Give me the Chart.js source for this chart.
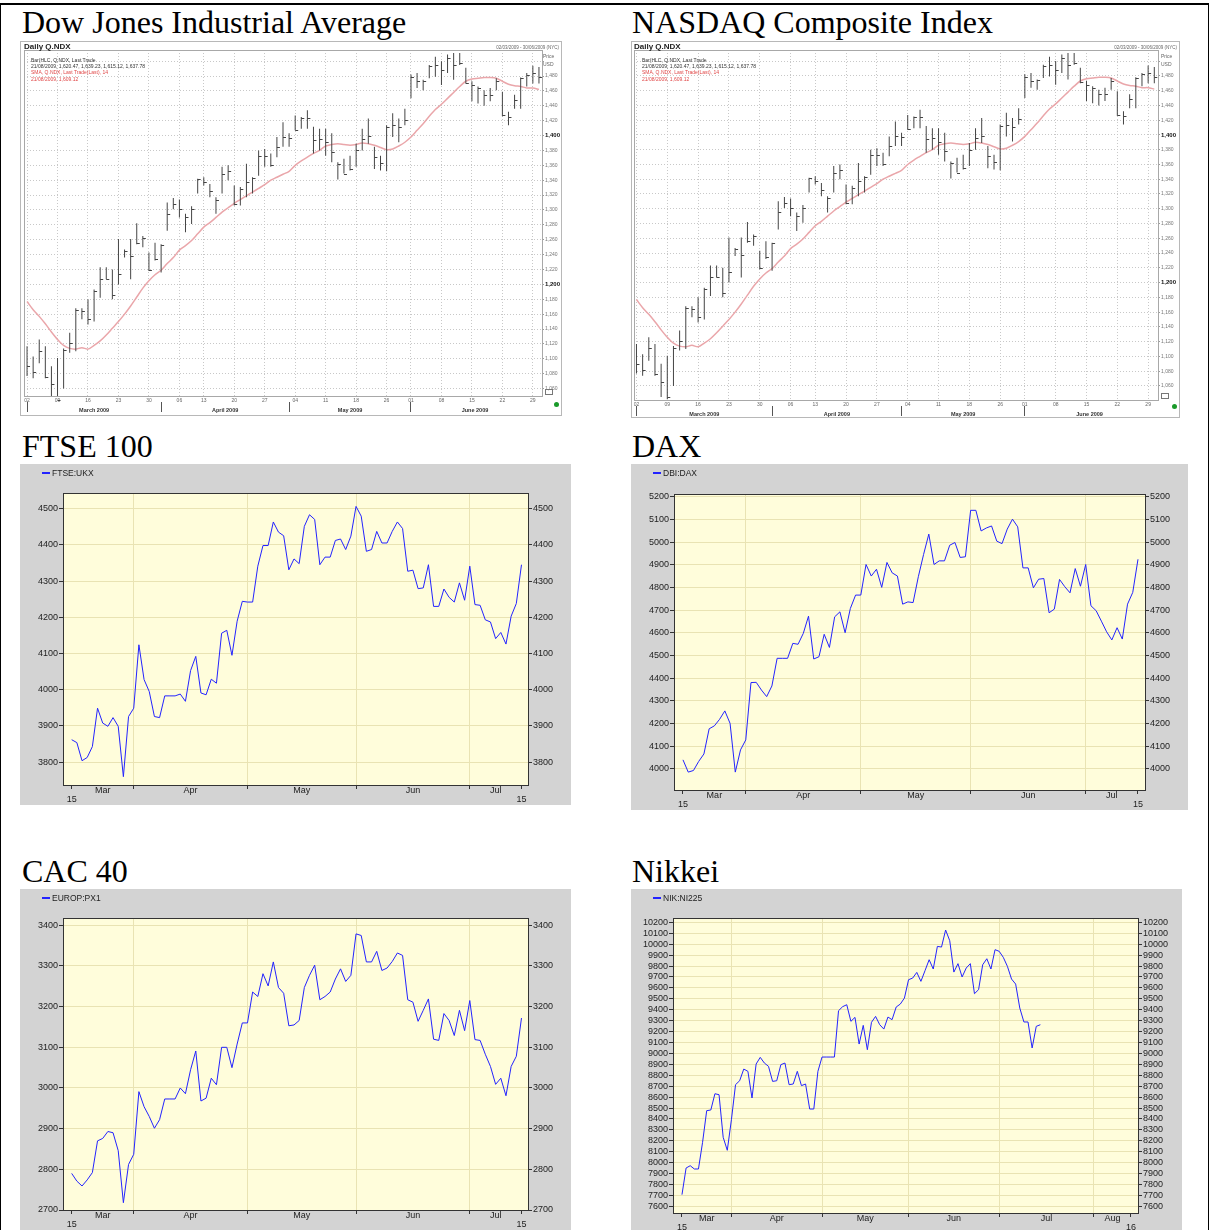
<!DOCTYPE html>
<html>
<head>
<meta charset="utf-8">
<title>Stock indices, spring 2009</title>
<script src="https://cdn.jsdelivr.net/npm/chart.js@4.4.1/dist/chart.umd.min.js"></script>
<style>
  html, body { margin: 0; padding: 0; background: #fff; }
  body { position: relative; width: 1210px; height: 1230px; overflow: hidden; font-family: "Liberation Sans", Arial, sans-serif; }
  .page-frame { position: absolute; left: 0; top: 3px; width: 1207px; height: 1300px; border-top: 2px solid #000; border-left: 1px solid #000; border-right: 1px solid #000; }
  .title { position: absolute; font-family: "Liberation Serif", "Times New Roman", serif; font-size: 32px; line-height: 32px; white-space: nowrap; color: #000; }
  .panel { position: absolute; }
  .panel canvas { position: absolute; left: 0; top: 0; }
  .legend { position: absolute; left: 22px; top: 5px; font-size: 8.5px; line-height: 8px; color: #222; white-space: nowrap; }
  .legend i { display: inline-block; width: 8px; height: 2px; background: #2323ff; vertical-align: 2px; margin-right: 2px; }
  .ndx-head { position: absolute; left: 4px; top: 1px; font-size: 8px; font-weight: bold; color: #222; white-space: nowrap; }
  .ndx-range { position: absolute; right: 3px; top: 4px; font-size: 4.5px; color: #666; white-space: nowrap; }
  .ndx-legend { position: absolute; left: 11px; top: 16px; font-size: 5px; line-height: 6.2px; color: #333; white-space: nowrap; }
  .ndx-legend .red { color: #e04848; }
  .ndx-price { position: absolute; right: 4px; width: 15px; top: 11px; font-size: 5px; line-height: 8px; color: #666; }
  .ndx-dot { position: absolute; right: 3px; bottom: 9px; width: 5px; height: 5px; border-radius: 50%; background: #1a9a2a; }
</style>
</head>
<body>
<div class="page-frame"></div>

<div class="title" style="left:22px;top:6px">Dow Jones Industrial Average</div>
<div class="title" style="left:632px;top:6px">NASDAQ Composite Index</div>
<div class="title" style="left:22px;top:430px">FTSE 100</div>
<div class="title" style="left:632px;top:430px">DAX</div>
<div class="title" style="left:22px;top:855px">CAC 40</div>
<div class="title" style="left:632px;top:855px">Nikkei</div>

<div class="panel" style="left:20px;top:41px;width:542px;height:375px">
  <canvas id="djChart" width="542" height="375"></canvas>
  <div class="ndx-head">Daily Q.NDX</div>
  <div class="ndx-range">02/03/2009 - 30/06/2009 (NYC)</div>
  <div class="ndx-legend">
    <div>Bar(HLC, Q.NDX, Last Trade</div>
    <div>21/08/2009, 1,620.47, 1,639.23, 1,615.12, 1,637.78</div>
    <div class="red">SMA, Q.NDX, Last Trade(Last), 14</div>
    <div class="red">21/08/2009, 1,609.12</div>
  </div>
  <div class="ndx-price">Price<br>USD</div>
  <div class="ndx-dot"></div>
</div>

<div class="panel" style="left:631px;top:41px;width:549px;height:377px">
  <canvas id="nasdaqChart" width="549" height="377"></canvas>
  <div class="ndx-head" style="left:3px">Daily Q.NDX</div>
  <div class="ndx-range">02/03/2009 - 30/06/2009 (NYC)</div>
  <div class="ndx-legend">
    <div>Bar(HLC, Q.NDX, Last Trade</div>
    <div>21/08/2009, 1,620.47, 1,639.23, 1,615.12, 1,637.78</div>
    <div class="red">SMA, Q.NDX, Last Trade(Last), 14</div>
    <div class="red">21/08/2009, 1,609.12</div>
  </div>
  <div class="ndx-price">Price<br>USD</div>
  <div class="ndx-dot"></div>
</div>

<div class="panel" style="left:20px;top:464px;width:551px;height:341px">
  <canvas id="ftseChart" width="551" height="341"></canvas>
  <div class="legend"><i></i>FTSE:UKX</div>
</div>

<div class="panel" style="left:631px;top:464px;width:557px;height:346px">
  <canvas id="daxChart" width="557" height="346"></canvas>
  <div class="legend"><i></i>DBI:DAX</div>
</div>

<div class="panel" style="left:20px;top:889px;width:551px;height:341px">
  <canvas id="cacChart" width="551" height="341"></canvas>
  <div class="legend"><i></i>EUROP:PX1</div>
</div>

<div class="panel" style="left:631px;top:889px;width:551px;height:341px">
  <canvas id="nikkeiChart" width="551" height="341"></canvas>
  <div class="legend"><i></i>NIK:NI225</div>
</div>

<script>
// daily closes, 16 Mar - 15 Jul 2009 (one value per trading day)
const ftseValues = [3862, 3854, 3804, 3813, 3843, 3949, 3908, 3899, 3923, 3899,
  3760, 3926, 3949, 4124, 4028, 3995, 3926, 3923, 3983, 3983,
  3983, 3988, 3968, 4053, 4092, 3991, 3986, 4029, 4018, 4156,
  4164, 4095, 4189, 4244, 4242, 4242, 4341, 4398, 4398, 4463,
  4435, 4425, 4331, 4361, 4348, 4451, 4483, 4470, 4345, 4366,
  4366, 4412, 4416, 4387, 4424, 4506, 4479, 4382, 4387, 4437,
  4405, 4405, 4437, 4463, 4445, 4327, 4330, 4279, 4281, 4345,
  4230, 4230, 4278, 4255, 4242, 4295, 4247, 4341, 4235, 4233,
  4193, 4187, 4141, 4158, 4126, 4203, 4238, 4345];

const daxValues = [4040, 3986, 3993, 4033, 4066, 4177, 4190, 4219, 4256, 4201,
  3986, 4084, 4128, 4381, 4382, 4348, 4319, 4366, 4488, 4488,
  4488, 4554, 4550, 4598, 4674, 4485, 4495, 4594, 4536, 4671,
  4693, 4601, 4708, 4767, 4767, 4902, 4851, 4881, 4801, 4911,
  4865, 4851, 4727, 4737, 4734, 4848, 4946, 5036, 4902, 4918,
  4918, 4987, 4999, 4933, 4936, 5141, 5141, 5050, 5063, 5072,
  5005, 4994, 5058, 5102, 5068, 4887, 4887, 4799, 4837, 4840,
  4689, 4705, 4836, 4804, 4777, 4884, 4806, 4902, 4720, 4698,
  4652, 4605, 4569, 4623, 4573, 4727, 4779, 4925];

const cacValues = [2790, 2771, 2759, 2774, 2792, 2870, 2876, 2893, 2890, 2846,
  2718, 2812, 2837, 2991, 2954, 2930, 2901, 2922, 2973, 2973,
  2973, 3000, 2986, 3045, 3091, 2968, 2975, 3024, 3008, 3100,
  3100, 3050, 3108, 3160, 3160, 3236, 3225, 3281, 3251, 3310,
  3247, 3233, 3153, 3155, 3166, 3247, 3277, 3302, 3217, 3225,
  3236, 3268, 3293, 3262, 3277, 3379, 3375, 3310, 3310, 3336,
  3289, 3295, 3311, 3332, 3326, 3217, 3211, 3164, 3191, 3219,
  3120, 3117, 3183, 3166, 3129, 3191, 3141, 3215, 3119, 3117,
  3083, 3053, 3009, 3024, 2981, 3053, 3078, 3172];

const nikkeiValues = [7707, 7951, 7972, 7942, 7942, 8186, 8476, 8482, 8631, 8622,
  8232, 8113, 8393, 8714, 8750, 8857, 8836, 8592, 8903, 8964,
  8912, 8882, 8744, 8750, 8897, 8912, 8714, 8720, 8836, 8705,
  8720, 8491, 8491, 8836, 8967, 8967, 8967, 8967, 9391, 9428,
  9446, 9294, 9330, 9086, 9257, 9034, 9285, 9339, 9263, 9223,
  9333, 9309, 9425, 9452, 9507, 9675, 9690, 9742, 9660, 9758,
  9858, 9773, 9980, 9974, 10130, 10032, 9745, 9822, 9700, 9782,
  9822, 9547, 9584, 9812, 9867, 9773, 9950, 9935, 9880, 9797,
  9681, 9635, 9416, 9288, 9288, 9050, 9248, 9263];

// Q.NDX daily bars, 2 Mar - 30 Jun 2009
const ndxHigh = [1117, 1103, 1126, 1117, 1090, 1101, 1114, 1135, 1168, 1168,
  1180, 1193, 1223, 1223, 1220, 1261, 1247, 1261, 1282, 1265,
  1243, 1256, 1254, 1310, 1316, 1314, 1295, 1305, 1342, 1344,
  1335, 1317, 1358, 1360, 1333, 1331, 1362, 1344, 1380, 1382,
  1376, 1398, 1418, 1403, 1427, 1425, 1434, 1412, 1409, 1409,
  1403, 1364, 1369, 1373, 1389, 1409, 1423, 1385, 1373, 1414,
  1430, 1423, 1436, 1482, 1484, 1475, 1495, 1506, 1500, 1509,
  1511, 1511, 1491, 1473, 1466, 1461, 1464, 1477, 1459, 1432,
  1455, 1478, 1484, 1494, 1492];
const ndxLow = [1077, 1074, 1094, 1074, 1045, 1042, 1060, 1108, 1110, 1153,
  1146, 1150, 1182, 1207, 1180, 1200, 1236, 1207, 1254, 1250,
  1218, 1232, 1216, 1272, 1301, 1290, 1270, 1281, 1322, 1333,
  1317, 1295, 1322, 1340, 1306, 1306, 1317, 1322, 1346, 1358,
  1358, 1371, 1385, 1385, 1407, 1409, 1409, 1376, 1380, 1373,
  1364, 1341, 1349, 1353, 1358, 1380, 1389, 1355, 1353, 1352,
  1398, 1391, 1414, 1450, 1464, 1461, 1477, 1479, 1468, 1484,
  1475, 1495, 1470, 1446, 1443, 1440, 1446, 1461, 1426, 1414,
  1436, 1436, 1466, 1470, 1470];
const ndxClose = [1090, 1082, 1111, 1076, 1066, 1045, 1112, 1121, 1166, 1164,
  1153, 1191, 1207, 1207, 1186, 1214, 1245, 1238, 1256, 1263,
  1220, 1234, 1253, 1295, 1308, 1301, 1290, 1301, 1341, 1337,
  1326, 1314, 1349, 1353, 1308, 1328, 1337, 1343, 1373, 1373,
  1361, 1385, 1398, 1397, 1408, 1424, 1424, 1394, 1396, 1391,
  1378, 1362, 1349, 1355, 1380, 1396, 1399, 1371, 1363, 1412,
  1414, 1411, 1421, 1479, 1473, 1474, 1493, 1495, 1488, 1504,
  1495, 1497, 1471, 1468, 1464, 1455, 1455, 1473, 1427, 1425,
  1448, 1477, 1482, 1484, 1479];
const ndxSma = [1177, 1166, 1157, 1147, 1136, 1126, 1118, 1114, 1113, 1115,
  1113, 1118, 1124, 1132, 1141, 1150, 1160, 1171, 1183, 1195,
  1205, 1213, 1219, 1228, 1236, 1246, 1252, 1259, 1268, 1277,
  1283, 1290, 1297, 1303, 1309, 1314, 1319, 1324, 1329, 1334,
  1340, 1344, 1348, 1352, 1360, 1366, 1371, 1376, 1380, 1386,
  1388, 1389, 1388, 1387, 1388, 1390, 1389, 1387, 1384, 1381,
  1382, 1386, 1391, 1398, 1407, 1416, 1426, 1435, 1442, 1450,
  1458, 1466, 1473, 1476, 1477, 1478, 1478, 1477, 1473, 1469,
  1467, 1466, 1464, 1464, 1462];

// axis ticks
const europeMonthEdges = [0, 12, 34, 55, 77, 87];
const europeMonths = ['Mar', 'Apr', 'May', 'Jun', 'Jul'];
const europeEndLabels = ['15', '15'];
const nikkeiMonthEdges = [0, 12, 34, 55, 77, 100, 109];
const nikkeiMonths = ['Mar', 'Apr', 'May', 'Jun', 'Jul', 'Aug'];
const nikkeiEndLabels = ['15', '16'];

const ftseTicks = [3800, 3900, 4000, 4100, 4200, 4300, 4400, 4500];
const daxTicks = [4000, 4100, 4200, 4300, 4400, 4500, 4600, 4700, 4800, 4900, 5000, 5100, 5200];
const cacTicks = [2700, 2800, 2900, 3000, 3100, 3200, 3300, 3400];
const nikkeiTicks = [7600, 7700, 7800, 7900, 8000, 8100, 8200, 8300, 8400, 8500, 8600, 8700, 8800, 8900,
  9000, 9100, 9200, 9300, 9400, 9500, 9600, 9700, 9800, 9900, 10000, 10100, 10200];

const ndxPriceTicks = [1060, 1080, 1100, 1120, 1140, 1160, 1180, 1200, 1220, 1240, 1260, 1280,
  1300, 1320, 1340, 1360, 1380, 1400, 1420, 1440, 1460, 1480, 1500];
const ndxDayTicks = [0, 5, 10, 15, 20, 25, 29, 34, 39, 44, 49, 54, 59, 63, 68, 73, 78, 83];
const ndxDayLabels = ['02', '09', '16', '23', '30', '06', '13', '20', '27', '04', '11', '18', '26', '01', '08', '15', '22', '29'];
const ndxMonthStarts = [0, 22, 43, 63];
const ndxLastIndex = 84;
const ndxMonths = ['March 2009', 'April 2009', 'May 2009', 'June 2009'];

// colours
const PAGE_GRAY = '#d3d3d3';
const PLOT_YELLOW = '#fffddb';
const GRID_KHAKI = '#e9e3b3';
const LINE_BLUE = '#2323ff';
const CLEAR = 'rgba(0,0,0,0)';

Chart.defaults.font.family = "'Liberation Sans', Arial, sans-serif";
Chart.defaults.animation = false;

// gray page + yellow plot with a dark frame
const yellowPlot = {
  id: 'yellowPlot',
  beforeDraw(chart) {
    const { ctx, chartArea: a, width, height } = chart;
    ctx.save();
    ctx.fillStyle = PAGE_GRAY;
    ctx.fillRect(0, 0, width, height);
    ctx.fillStyle = PLOT_YELLOW;
    ctx.fillRect(a.left, a.top, a.right - a.left, a.bottom - a.top);
    ctx.restore();
  },
  afterDraw(chart) {
    const { ctx, chartArea: a } = chart;
    ctx.save();
    ctx.strokeStyle = '#333';
    ctx.lineWidth = 1;
    ctx.strokeRect(Math.round(a.left) + 0.5, Math.round(a.top) + 0.5, Math.round(a.right - a.left), Math.round(a.bottom - a.top));
    ctx.restore();
  }
};

function makeIndexChart(id, cfg) {
  const edges = cfg.edges;
  const mids = cfg.months.map((m, i) => (edges[i] + edges[i + 1]) / 2);
  const tickVals = edges.concat(mids).sort((a, b) => a - b);
  const first = edges[0];
  const last = edges[edges.length - 1];
  const isInner = v => edges.indexOf(v) > 0 && v !== last;
  const isEdge = v => edges.indexOf(v) >= 0;
  const font = { size: 9 };

  const yAxis = (pos, width, grid) => ({
    type: 'linear',
    position: pos,
    min: cfg.yMin,
    max: cfg.yMax,
    afterBuildTicks: s => { s.ticks = cfg.yTicks.map(v => ({ value: v })); },
    afterFit: s => { s.width = width; },
    border: { display: false },
    grid: { drawOnChartArea: grid, color: GRID_KHAKI, tickColor: '#333', tickLength: 4 },
    ticks: { autoSkip: false, color: '#222', font, padding: 1, callback: v => String(v) }
  });

  return new Chart(document.getElementById(id), {
    type: 'line',
    data: {
      datasets: [{
        data: cfg.values.map((v, i) => ({ x: i, y: v })),
        borderColor: LINE_BLUE,
        borderWidth: 1,
        pointRadius: 0,
        tension: 0
      }]
    },
    options: {
      responsive: false,
      devicePixelRatio: 1,
      layout: { padding: { top: cfg.top, left: 0, right: 0, bottom: 0 } },
      plugins: { legend: { display: false }, tooltip: { enabled: false } },
      scales: {
        x: {
          type: 'linear',
          min: cfg.xMin,
          max: cfg.xMax,
          afterBuildTicks: s => { s.ticks = tickVals.map(v => ({ value: v })); },
          afterFit: s => { s.height = cfg.bottom; },
          border: { display: false },
          grid: {
            color: c => (c.tick && isInner(c.tick.value) ? GRID_KHAKI : CLEAR),
            tickColor: c => (c.tick && isEdge(c.tick.value) ? '#333' : CLEAR),
            tickLength: 4
          },
          ticks: {
            autoSkip: false,
            maxRotation: 0,
            padding: -3,
            color: '#222',
            font: { size: 9, lineHeight: 1 },
            callback: v => {
              if (v === first) return ['', cfg.endLabels[0]];
              if (v === last) return ['', cfg.endLabels[1]];
              const k = mids.indexOf(v);
              return k >= 0 ? cfg.months[k] : '';
            }
          }
        },
        y: yAxis('left', cfg.leftW, true),
        y2: yAxis('right', cfg.rightW, false)
      }
    },
    plugins: [yellowPlot]
  });
}

// white chart with gray frames, close ticks on the bars
const ndxFrame = {
  id: 'ndxFrame',
  beforeDraw(chart) {
    const { ctx, width, height } = chart;
    ctx.save();
    ctx.fillStyle = '#fff';
    ctx.fillRect(0, 0, width, height);
    ctx.restore();
  },
  afterDatasetsDraw(chart) {
    const meta = chart.getDatasetMeta(0);
    const y = chart.scales.y;
    const ctx = chart.ctx;
    ctx.save();
    ctx.strokeStyle = '#444';
    ctx.lineWidth = 1;
    meta.data.forEach((bar, i) => {
      const py = Math.round(y.getPixelForValue(ndxClose[i])) + 0.5;
      ctx.beginPath();
      ctx.moveTo(bar.x, py);
      ctx.lineTo(bar.x + 3, py);
      ctx.stroke();
    });
    ctx.restore();
  },
  afterDraw(chart) {
    const { ctx, chartArea: a, width, height } = chart;
    ctx.save();
    ctx.lineWidth = 1;
    ctx.strokeStyle = '#a8a8a8';
    ctx.strokeRect(Math.round(a.left) + 0.5, Math.round(a.top) + 0.5, Math.round(a.right - a.left), Math.round(a.bottom - a.top));
    ctx.strokeStyle = '#b8b8b8';
    ctx.strokeRect(0.5, 0.5, width - 1, height - 1);
    // small zoom box under the price axis
    ctx.strokeStyle = '#777';
    ctx.strokeRect(Math.round(a.right) + 3.5, Math.round(a.bottom) - 6.5, 7, 5);
    ctx.restore();
  }
};

function makeNdxChart(id, g) {
  const mids = ndxMonthStarts.map((s, i) => (s + (i + 1 < ndxMonthStarts.length ? ndxMonthStarts[i + 1] : ndxLastIndex)) / 2);
  const monthTicks = ndxMonthStarts.concat(mids).sort((a, b) => a - b);

  return new Chart(document.getElementById(id), {
    type: 'bar',
    data: {
      datasets: [{
        type: 'bar',
        data: ndxHigh.map((h, i) => ({ x: i, y: [ndxLow[i], h] })),
        backgroundColor: '#444',
        barThickness: 1,
        inflateAmount: 0,
        order: 0
      }, {
        type: 'line',
        data: ndxSma.map((v, i) => ({ x: i, y: v })),
        borderColor: '#eaa6aa',
        borderWidth: 1.5,
        pointRadius: 0,
        tension: 0.3,
        order: 1
      }]
    },
    options: {
      responsive: false,
      devicePixelRatio: 1,
      layout: { padding: { top: g.top, left: g.left, right: 0, bottom: 0 } },
      plugins: { legend: { display: false }, tooltip: { enabled: false } },
      scales: {
        x: {
          type: 'linear',
          min: g.xMin,
          max: g.xMax,
          offset: false,
          weight: 0,
          afterBuildTicks: s => { s.ticks = ndxDayTicks.map(v => ({ value: v })); },
          afterFit: s => { s.height = 6; },
          border: { display: false, dash: [1, 2] },
          grid: { offset: false, color: '#c8c8c8', tickColor: CLEAR, tickLength: 2 },
          ticks: {
            autoSkip: false, maxRotation: 0, padding: 0, color: '#666', font: { size: 5 },
            callback: v => ndxDayLabels[ndxDayTicks.indexOf(v)]
          }
        },
        xm: {
          type: 'linear',
          position: 'bottom',
          min: g.xMin,
          max: g.xMax,
          offset: false,
          weight: 1,
          afterBuildTicks: s => { s.ticks = monthTicks.map(v => ({ value: v })); },
          afterFit: s => { s.height = g.monthH; },
          border: { display: false },
          grid: {
            offset: false,
            drawOnChartArea: false,
            tickColor: c => (c.tick && ndxMonthStarts.indexOf(c.tick.value) >= 0 ? '#555' : CLEAR),
            tickLength: 10
          },
          ticks: {
            autoSkip: false, maxRotation: 0, padding: -5, color: '#333',
            font: { size: 5.5, weight: 'bold' },
            callback: v => {
              const k = mids.indexOf(v);
              return k >= 0 ? ndxMonths[k] : '';
            }
          }
        },
        y: {
          type: 'linear',
          position: 'right',
          min: g.yMin,
          max: g.yMax,
          afterBuildTicks: s => { s.ticks = ndxPriceTicks.map(v => ({ value: v })); },
          afterFit: s => { s.width = g.axisW; },
          border: { display: false, dash: [1, 2] },
          grid: { color: '#c8c8c8', tickColor: '#999', tickLength: 2 },
          ticks: {
            autoSkip: false,
            padding: 1,
            color: c => (c.tick && c.tick.value % 200 === 0 ? '#111' : '#777'),
            font: c => (c.tick && c.tick.value % 200 === 0 ? { size: 6, weight: 'bold' } : { size: 5 }),
            callback: v => (v >= 1500 ? '' : v.toLocaleString('en-US'))
          }
        }
      }
    },
    plugins: [ndxFrame]
  });
}

document.addEventListener('DOMContentLoaded', function () {
  makeNdxChart('djChart', { left: 4, top: 9, axisW: 20, monthH: 14, xMin: -0.5, xMax: 84.5, yMin: 1050, yMax: 1515 });
  makeNdxChart('nasdaqChart', { left: 3, top: 9, axisW: 22, monthH: 12, xMin: -0.4, xMax: 84.6, yMin: 1041, yMax: 1515 });

  makeIndexChart('ftseChart', {
    values: ftseValues, yTicks: ftseTicks, yMin: 3737, yMax: 4543,
    edges: europeMonthEdges, months: europeMonths, endLabels: europeEndLabels,
    xMin: -1.68, xMax: 88.26, leftW: 43, rightW: 43, top: 29, bottom: 20
  });
  makeIndexChart('daxChart', {
    values: daxValues, yTicks: daxTicks, yMin: 3907, yMax: 5213,
    edges: europeMonthEdges, months: europeMonths, endLabels: europeEndLabels,
    xMin: -1.72, xMax: 88.34, leftW: 43, rightW: 43, top: 30, bottom: 20
  });
  makeIndexChart('cacChart', {
    values: cacValues, yTicks: cacTicks, yMin: 2700, yMax: 3418,
    edges: europeMonthEdges, months: europeMonths, endLabels: europeEndLabels,
    xMin: -1.68, xMax: 88.26, leftW: 43, rightW: 43, top: 29, bottom: 20
  });
  makeIndexChart('nikkeiChart', {
    values: nikkeiValues, yTicks: nikkeiTicks, yMin: 7539, yMax: 10240,
    edges: nikkeiMonthEdges, months: nikkeiMonths, endLabels: nikkeiEndLabels,
    xMin: -2.18, xMax: 110.7, leftW: 42, rightW: 44, top: 29, bottom: 17
  });
});
</script>
</body>
</html>
